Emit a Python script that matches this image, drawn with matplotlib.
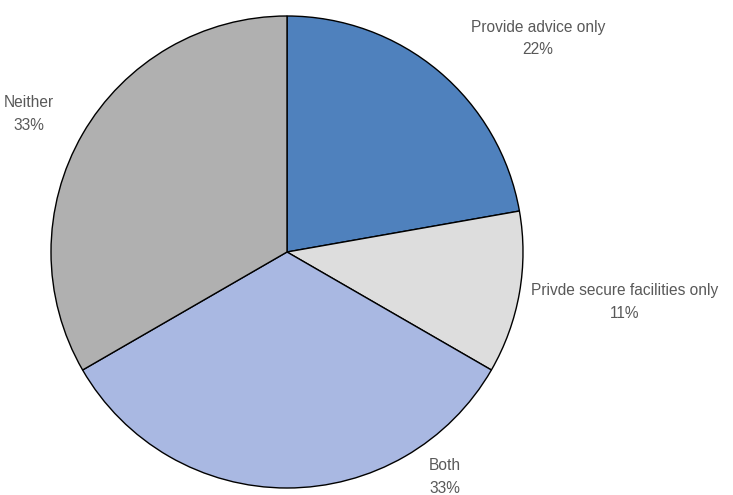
import matplotlib.pyplot as plt

labels = ["Provide advice only", "Privde secure facilities only", "Both", "Neither"]
values = [2, 1, 3, 3]
pct_labels = ["22%", "11%", "33%", "33%"]
colors = ["#4F81BD", "#DDDDDD", "#A9B8E2", "#B0B0B0"]

plt.rcParams['font.family'] = ['Liberation Sans Narrow', 'Liberation Sans', 'DejaVu Sans']

fig = plt.figure(figsize=(7.33, 4.95), dpi=100)
ax = fig.add_axes([51 / 733, 7 / 495, 472 / 733, 472 / 495])

ax.pie(values, colors=colors, startangle=90, counterclock=False, radius=1,
       wedgeprops=dict(edgecolor="black", linewidth=1))

# label positions (data coords, radius = 1)
label_pos = [(1.064, 0.903), (1.432, -0.212), (0.669, -0.953), (-1.095, 0.585)]
for lab, pct, (x, y) in zip(labels, pct_labels, label_pos):
    ax.text(x, y, f"{lab}\n{pct}", ha="center", va="center", fontsize=11.2,
            color="#595959", linespacing=1.6, clip_on=False)

ax.set_xlim(-1, 1)
ax.set_ylim(-1, 1)
ax.set_aspect("equal")
ax.axis("off")

plt.savefig("out.png", dpi=100)
